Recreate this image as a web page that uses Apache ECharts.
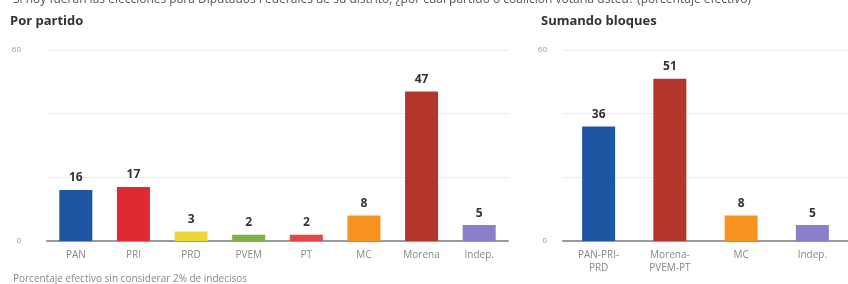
<!DOCTYPE html>
<html><head><meta charset="utf-8">
<script src="https://cdn.jsdelivr.net/npm/echarts@6/dist/echarts.min.js"></script>
<style>html,body{margin:0;padding:0;background:#fff}#c{width:848px;height:284px}</style>
</head><body><div id="c"></div>
<script>
const partyCats = ['PAN','PRI','PRD','PVEM','PT','MC','Morena','Indep.'];
const partyVals = [16,17,3,2,2,8,47,5];
const partyColors = ['#1f56a3','#e02a33','#ecd63a','#7cb342','#e04848','#f7931e','#b3352c','#8a7fc8'];
const blocCats = ['PAN-PRI-\nPRD','Morena-\nPVEM-PT','MC','Indep.'];
const blocVals = [36,51,8,5];
const blocColors = ['#1f56a3','#b3352c','#f7931e','#8a7fc8'];
const yTicks = [0,60];

const chart = echarts.init(document.getElementById('c'));
const font = '"Open Sans", "Noto Sans", sans-serif';
function yAxis(gi,m){return {gridIndex:gi,type:'value',min:0,max:60,interval:20,
  axisLine:{show:false},axisTick:{show:false},
  axisLabel:{fontFamily:font,fontSize:8,color:'#999',margin:m,
    formatter:v=>yTicks.includes(v)?String(v):''},
  splitLine:{lineStyle:{color:'#ececec',width:1}}};}
function xAxis(gi,cats){return {gridIndex:gi,type:'category',data:cats,
  axisLine:{lineStyle:{color:'#9a9a9a',width:2}},axisTick:{show:false},
  axisLabel:{fontFamily:font,fontSize:10,color:'#888',margin:8,lineHeight:13,interval:0}};}
function bars(xi,vals,cols,w){return {type:'bar',xAxisIndex:xi,yAxisIndex:xi,barWidth:w,
  data:vals.map((v,i)=>({value:v,itemStyle:{color:cols[i]}})),
  label:{show:true,position:'top',distance:6,fontFamily:font,fontSize:12,fontWeight:'bold',color:'#333'}};}
chart.setOption({
  animation:false,
  title:[
    {text:'Si hoy fueran las elecciones para Diputados Federales de su distrito, ¿por cuál partido o coalición votaría usted? (porcentaje efectivo)',left:8,top:-11,
     textStyle:{fontFamily:font,fontSize:12,fontWeight:'normal',color:'#555'}},
    {text:'Por partido',left:5,top:10,textStyle:{fontFamily:font,fontSize:13,fontWeight:'bold',color:'#333'}},
    {text:'Sumando bloques',left:536,top:10,textStyle:{fontFamily:font,fontSize:13,fontWeight:'bold',color:'#333'}},
    {text:'Porcentaje efectivo sin considerar 2% de indecisos',left:8,top:269,textStyle:{fontFamily:font,fontSize:10,fontWeight:'normal',color:'#888'}}
  ],
  grid:[{left:47,right:340,top:50,bottom:43},{left:563,right:-8,top:50,bottom:43}],
  xAxis:[xAxis(0,partyCats),xAxis(1,blocCats)],
  yAxis:[yAxis(0,26),yAxis(1,16)],
  series:[bars(0,partyVals,partyColors,33),bars(1,blocVals,blocColors,33)]
});
</script></body></html>
